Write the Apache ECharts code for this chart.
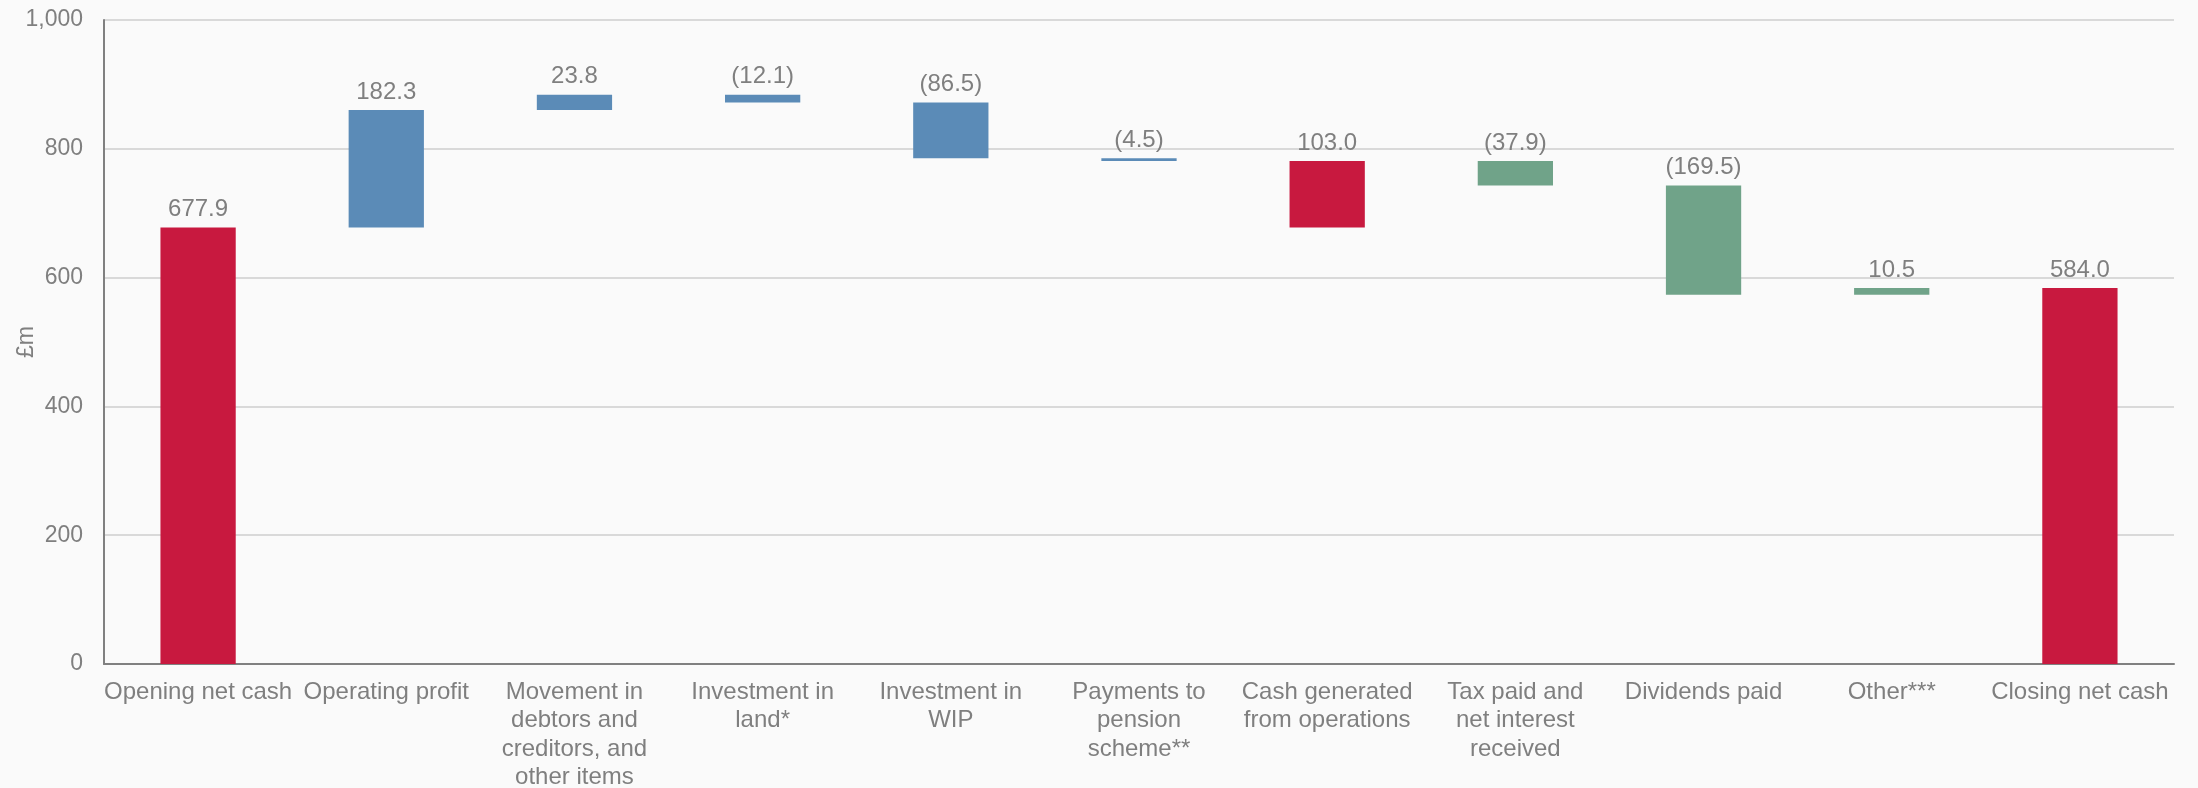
<!DOCTYPE html>
<html>
<head>
<meta charset="utf-8">
<script src="https://cdn.jsdelivr.net/npm/echarts@6/dist/echarts.min.js"></script>
<style>
html,body{margin:0;padding:0;background:#fafafa;}
#chart{width:2198px;height:788px;}
</style>
</head>
<body>
<div id="chart"></div>
<script>
const categories = [
  'Opening net cash', 'Operating profit', 'Movement in\ndebtors and\ncreditors, and\nother items',
  'Investment in\nland*', 'Investment in\nWIP', 'Payments to\npension\nscheme**',
  'Cash generated\nfrom operations', 'Tax paid and\nnet interest\nreceived', 'Dividends paid',
  'Other***', 'Closing net cash'
];
const values = [677.9, 182.3, 23.8, -12.1, -86.5, -4.5, 103.0, -37.9, -169.5, 10.5, 584.0];
const kinds = ['total', 'delta', 'delta', 'delta', 'delta', 'delta', 'subtotal', 'delta', 'delta', 'delta', 'total'];
const groups = ['red', 'blue', 'blue', 'blue', 'blue', 'blue', 'red', 'green', 'green', 'green', 'red'];
const yTicks = [0, 200, 400, 600, 800, 1000];

const palette = { red: '#C8193F', blue: '#5B8BB7', green: '#70A389' };

// build waterfall bases / heights from values
const bases = [], heights = [];
let running = 0;
values.forEach((v, i) => {
  if (kinds[i] === 'total') {
    bases.push(0); heights.push(v); running = v;
  } else if (kinds[i] === 'subtotal') {
    bases.push(running - v); heights.push(v);
  } else {
    const next = running + v;
    bases.push(Math.min(running, next)); heights.push(Math.abs(v)); running = next;
  }
});

function fmt(v) {
  const s = Math.abs(v).toFixed(1);
  return v < 0 ? '(' + s + ')' : s;
}

const textColor = '#7f7f7f';
const font = 'Liberation Sans, Arial, sans-serif';

const chart = echarts.init(document.getElementById('chart'));
chart.setOption({
  backgroundColor: '#fafafa',
  animation: false,
  grid: { left: 104, right: 24, top: 20, bottom: 124, containLabel: false, outerBoundsMode: 'none' },
  xAxis: {
    type: 'category',
    data: categories,
    axisLine: { lineStyle: { color: '#808080', width: 2 } },
    axisTick: { show: false },
    axisLabel: {
      color: textColor, fontSize: 24, fontFamily: font, lineHeight: 28.5,
      margin: 14, interval: 0
    }
  },
  yAxis: {
    type: 'value',
    min: yTicks[0], max: yTicks[yTicks.length - 1], interval: 200,
    name: '£m', nameLocation: 'middle', nameGap: 66, nameMoveOverlap: false,
    nameTextStyle: { color: textColor, fontSize: 23, fontFamily: font },
    axisLine: { show: true, lineStyle: { color: '#808080', width: 2 } },
    axisTick: { show: false },
    splitLine: { lineStyle: { color: '#d9d9d9', width: 2 } },
    axisLabel: {
      color: textColor, fontSize: 23, fontFamily: font, margin: 21,
      formatter: v => v.toLocaleString('en-GB')
    }
  },
  series: [
    {
      type: 'bar', stack: 'wf', barWidth: '40%',
      itemStyle: { color: 'transparent' },
      emphasis: { disabled: true },
      data: bases
    },
    {
      type: 'bar', stack: 'wf', barWidth: '40%',
      data: heights.map((h, i) => ({ value: h, itemStyle: { color: palette[groups[i]] } })),
      label: {
        show: true, position: 'top', distance: 6,
        color: textColor, fontSize: 24, fontFamily: font,
        formatter: p => fmt(values[p.dataIndex])
      }
    }
  ]
});
</script>
</body>
</html>
